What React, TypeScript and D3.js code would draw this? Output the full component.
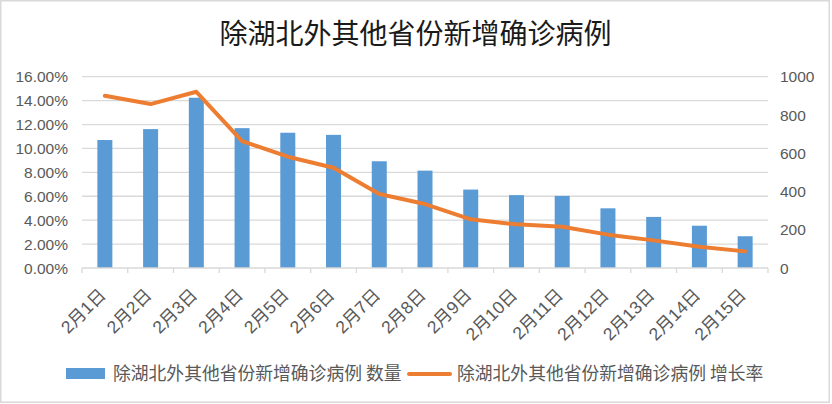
import React, { useEffect, useRef } from 'react';
import { select, scaleBand, scaleLinear, line, format } from 'd3';

// data
const dates = ['2月1日', '2月2日', '2月3日', '2月4日', '2月5日', '2月6日', '2月7日', '2月8日',
    '2月9日', '2月10日', '2月11日', '2月12日', '2月13日', '2月14日', '2月15日'];
const counts = [669, 726, 890, 731, 707, 696, 558, 509, 410, 381, 377, 312, 267, 221, 166];
const rates = [0.1441, 0.1371, 0.1474, 0.1062, 0.0931, 0.0839, 0.0619, 0.0535,
    0.0407, 0.0365, 0.0345, 0.0279, 0.0231, 0.0178, 0.0139];
const rateTicks = [0, 0.02, 0.04, 0.06, 0.08, 0.1, 0.12, 0.14, 0.16];
const countTicks = [0, 200, 400, 600, 800, 1000];

const title = '除湖北外其他省份新增确诊病例';
const barName = '除湖北外其他省份新增确诊病例 数量';
const lineName = '除湖北外其他省份新增确诊病例 增长率';

const W = 832;
const H = 404;
const BLUE = '#5b9bd5';
const ORANGE = '#ed7d31';
const GRID = '#d9d9d9';
const TEXT = '#595959';
const FONT = '"Liberation Sans", "Noto Sans CJK SC", sans-serif';
const CJK = '"Noto Sans CJK SC", sans-serif';

const App = () => {
    const svgRef = useRef<SVGSVGElement>(null);

    useEffect(() => {
        const svg = select(svgRef.current);
        svg.selectAll('*').remove();

        const left = 82, right = 768, top = 76.7, bottom = 268;

        const x = scaleBand<string>()
            .domain(dates)
            .range([left, right])
            .paddingInner(0.672)
            .paddingOuter(0.336);
        const step = x.step();
        const center = (d: string) => (x(d) as number) + x.bandwidth() / 2;

        const yRate = scaleLinear().domain([0, 0.16]).range([bottom, top]);
        const yCount = scaleLinear().domain([0, 1000]).range([bottom, top]);

        // chart border
        svg.append('rect')
            .attr('x', 0.75).attr('y', 0.75)
            .attr('width', 828.5).attr('height', 401.5)
            .attr('fill', 'white')
            .attr('stroke', GRID)
            .attr('stroke-width', 1.5);

        // title
        svg.append('text')
            .attr('x', 415.5).attr('y', 44)
            .attr('text-anchor', 'middle')
            .attr('font-family', CJK)
            .attr('font-size', 28)
            .attr('fill', '#1a1a1a')
            .text(title);

        // gridlines
        svg.append('g')
            .selectAll('line')
            .data(rateTicks.slice(1))
            .join('line')
            .attr('x1', left).attr('x2', right)
            .attr('y1', d => yRate(d)).attr('y2', d => yRate(d))
            .attr('stroke', GRID)
            .attr('stroke-width', 1.3);

        // left axis labels
        const pct = format('.2%');
        svg.append('g')
            .selectAll('text')
            .data(rateTicks)
            .join('text')
            .attr('x', 68)
            .attr('y', d => yRate(d))
            .attr('dy', '0.36em')
            .attr('text-anchor', 'end')
            .attr('font-family', FONT)
            .attr('font-size', 15.5)
            .attr('fill', TEXT)
            .text(d => pct(d));

        // right axis labels
        svg.append('g')
            .selectAll('text')
            .data(countTicks)
            .join('text')
            .attr('x', 780)
            .attr('y', d => yCount(d))
            .attr('dy', '0.36em')
            .attr('font-family', FONT)
            .attr('font-size', 15.5)
            .attr('fill', TEXT)
            .text(d => String(d));

        // bars
        svg.append('g')
            .selectAll('rect')
            .data(counts)
            .join('rect')
            .attr('x', (d, i) => x(dates[i]) as number)
            .attr('y', d => yCount(d))
            .attr('width', x.bandwidth())
            .attr('height', d => bottom - yCount(d))
            .attr('fill', BLUE);

        // x axis line + ticks
        const axis = svg.append('g');
        axis.append('line')
            .attr('x1', left).attr('x2', right)
            .attr('y1', bottom).attr('y2', bottom)
            .attr('stroke', GRID)
            .attr('stroke-width', 1.3);
        axis.selectAll('.tick')
            .data(dates.concat(['end']))
            .join('line')
            .attr('class', 'tick')
            .attr('x1', (d, i) => left + i * step)
            .attr('x2', (d, i) => left + i * step)
            .attr('y1', bottom).attr('y2', bottom + 5)
            .attr('stroke', GRID)
            .attr('stroke-width', 1.3);

        // x labels, rotated
        svg.append('g')
            .selectAll('text')
            .data(dates)
            .join('text')
            .attr('transform', d => `translate(${center(d) + 2},${bottom + 28}) rotate(-45)`)
            .attr('text-anchor', 'end')
            .attr('font-family', FONT)
            .attr('font-size', 17.5)
            .attr('fill', TEXT)
            .text(d => d);

        // rate line
        const path = line<number>()
            .x((d, i) => center(dates[i]))
            .y(d => yRate(d));
        svg.append('path')
            .datum(rates)
            .attr('d', path)
            .attr('fill', 'none')
            .attr('stroke', ORANGE)
            .attr('stroke-width', 4)
            .attr('stroke-linejoin', 'round')
            .attr('stroke-linecap', 'round');

        // legend
        const legend = svg.append('g');
        legend.append('rect')
            .attr('x', 66).attr('y', 368)
            .attr('width', 39).attr('height', 11)
            .attr('fill', BLUE);
        legend.append('text')
            .attr('x', 113).attr('y', 374)
            .attr('dy', '0.36em')
            .attr('font-family', CJK)
            .attr('font-size', 17.8)
            .attr('fill', TEXT)
            .text(barName);
        legend.append('line')
            .attr('x1', 409).attr('x2', 450)
            .attr('y1', 374).attr('y2', 374)
            .attr('stroke', ORANGE)
            .attr('stroke-width', 4)
            .attr('stroke-linecap', 'round');
        legend.append('text')
            .attr('x', 457).attr('y', 374)
            .attr('dy', '0.36em')
            .attr('font-family', CJK)
            .attr('font-size', 17.8)
            .attr('fill', TEXT)
            .text(lineName);
    }, []);

    return (
        <svg ref={svgRef} width={W} height={H}
            style={{ position: 'absolute', left: 0, top: 0, display: 'block', background: 'white' }} />
    );
};

export default App;
